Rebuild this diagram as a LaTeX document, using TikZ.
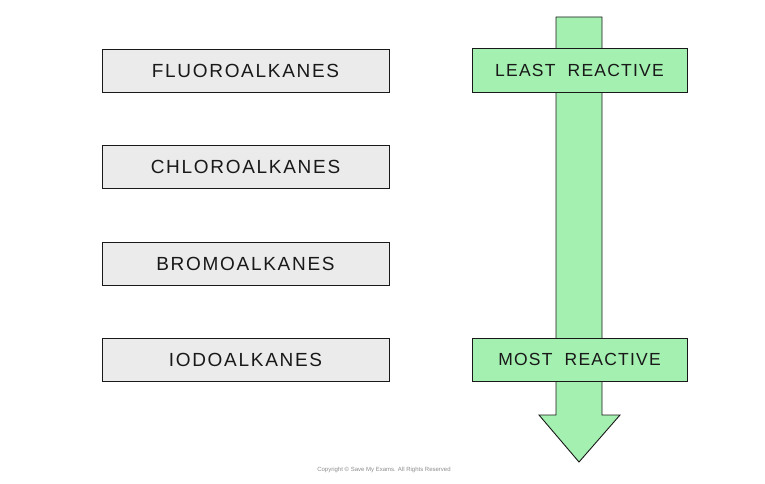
\documentclass[tikz,border=0pt]{standalone}
\usepackage{fontspec}
\setmainfont{Liberation Sans}
\begin{document}
\begin{tikzpicture}[x=1pt,y=-1pt,
  gbox/.style={draw=black!90,line width=0.9pt,fill=black!8},
  lbl/.style={font=\fontsize{19}{22}\selectfont\addfontfeature{LetterSpace=9},text=black!90},
  rlbl/.style={font=\fontsize{17.5}{21}\selectfont\addfontfeature{LetterSpace=7},text=black!90}]
\useasboundingbox (0,0) rectangle (765,484);
\definecolor{arrowgreen}{HTML}{A3F0B0}
\draw[line width=0.9pt,fill=arrowgreen,draw=black!90] (556,17) -- (602,17) -- (602,415) -- (620,415) -- (579,462) -- (539,415) -- (556,415) -- cycle;
\foreach \n/\y/\t in {f/49/FLUOROALKANES,c/145/CHLOROALKANES,b/242/BROMOALKANES,i/338/IODOALKANES}{
  \draw[gbox] (102,\y) rectangle (389,\y+43);
  \node[lbl] (\n) at (245.5,\y+21.5) {\t};
}
\draw[line width=0.9pt,fill=arrowgreen,draw=black!90] (472,48) rectangle (687,92);
\node[rlbl] (lr) at (579.5,70) {LEAST\ \ REACTIVE};
\draw[line width=0.9pt,fill=arrowgreen,draw=black!90] (472,338) rectangle (687,381);
\node[rlbl] (mr) at (579.5,359.5) {MOST\ \ REACTIVE};
\node[font=\fontsize{6}{7}\selectfont,text=black!45] (cp) at (384,470) {Copyright © Save My Exams. All Rights Reserved};
\end{tikzpicture}
\end{document}
